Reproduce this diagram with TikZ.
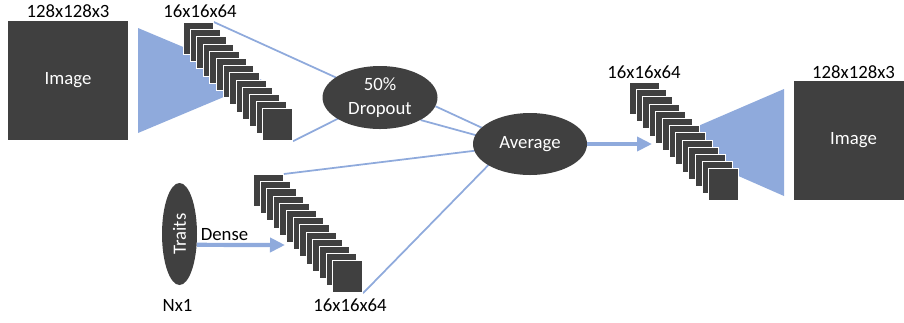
\documentclass[tikz,border=0pt]{standalone}
\usepackage{fontspec}
\setmainfont{Carlito}
\usepackage{graphicx}
\usetikzlibrary{shapes.geometric,arrows.meta,calc}
\pgfdeclarelayer{bg}
\pgfsetlayers{bg,main}
\definecolor{dk}{HTML}{404040}
\definecolor{bl}{HTML}{8FAADC}
\begin{document}
\begin{tikzpicture}[x=0.03cm,y=-0.03cm,
  lbl/.style={font=\fontsize{16}{19}\selectfont, text=black, inner sep=0},
  sq/.style={rectangle, fill=dk, draw=white, line width=0.7pt, minimum width=0.9cm, minimum height=0.96cm, anchor=north west, inner sep=0},
  imgbox/.style={rectangle, fill=dk, draw=none, text=white, minimum width=3.6cm, minimum height=3.57cm, inner sep=0, font=\fontsize{16}{19}\selectfont},
  blob/.style={ellipse, fill=dk, draw=none, text=white, inner sep=0, font=\fontsize{16}{21}\selectfont, align=center},
  thinline/.style={draw=bl, line width=1.5pt},
  thickarrow/.style={draw=bl, line width=3.6pt, -{Triangle[length=0.45cm,width=0.42cm]}}
]
\clip (0,0) rectangle (904,322);

% left image and encoder triangle
\node[imgbox] (img1) at (68,80.5) {Image};
\node[lbl] (lab1) at (68,11) {128x128x3};
\fill[bl] (138,28) -- (138,133) -- (263,80.5) -- cycle;
\foreach \i in {1,...,13} \node[sq] (a\i) at ({183+6.6*(\i-1)},{22+7.2*(\i-1)}) {};
\node[lbl] (lab2) at (200,11) {16x16x64};

% traits branch
\node[blob, minimum width=1.05cm, minimum height=3.06cm] (traits) at (179.5,234) {\rotatebox{90}{Traits}};
\node[lbl] (lab3) at (177.5,305) {Nx1};
\foreach \i in {1,...,13} \node[sq] (b\i) at ({253+6.6*(\i-1)},{174+7.2*(\i-1)}) {};
\node[lbl] (lab4) at (350,305) {16x16x64};
\coordinate (denseend) at (285,245);
\node[lbl] (lab5) at (224.5,235) {Dense};

% middle ellipses
\node[blob, minimum width=3.45cm, minimum height=1.89cm] (drop) at (380,97.5) {50\%\\Dropout};
\node[blob, minimum width=3.42cm, minimum height=1.86cm] (avg) at (530,144) {Average};

% right decoder
\fill[bl] (784,89) -- (784,196) -- (661,142) -- cycle;
\foreach \i in {1,...,13} \node[sq] (c\i) at ({629+6.6*(\i-1)},{82+7.2*(\i-1)}) {};
\node[lbl] (lab6) at (644,72) {16x16x64};
\node[imgbox] (img2) at (853.5,140.5) {Image};
\node[lbl] (lab7) at (853.5,72) {128x128x3};
\coordinate (avgout) at (652,144);

% connectors
\begin{pgfonlayer}{bg}
  \draw[thinline] (a1.north east) -- (drop.center);
  \draw[thinline] (a13.south east) -- (drop.center);
  \draw[thinline] (drop.-9) -- ($(avg.center)+(0,6)$);
  \draw[thinline] (drop.-29) -- ($(avg.center)+(0,6)$);
  \draw[thinline] (b1.north east) -- (avg.center);
  \draw[thinline] (b13.south east) -- ($(avg.center)+(-23,2)$);
\end{pgfonlayer}
\draw[thickarrow] (traits.-32.7) -- (denseend);
\draw[thickarrow] (avg.east) -- (avgout);
\end{tikzpicture}
\end{document}
